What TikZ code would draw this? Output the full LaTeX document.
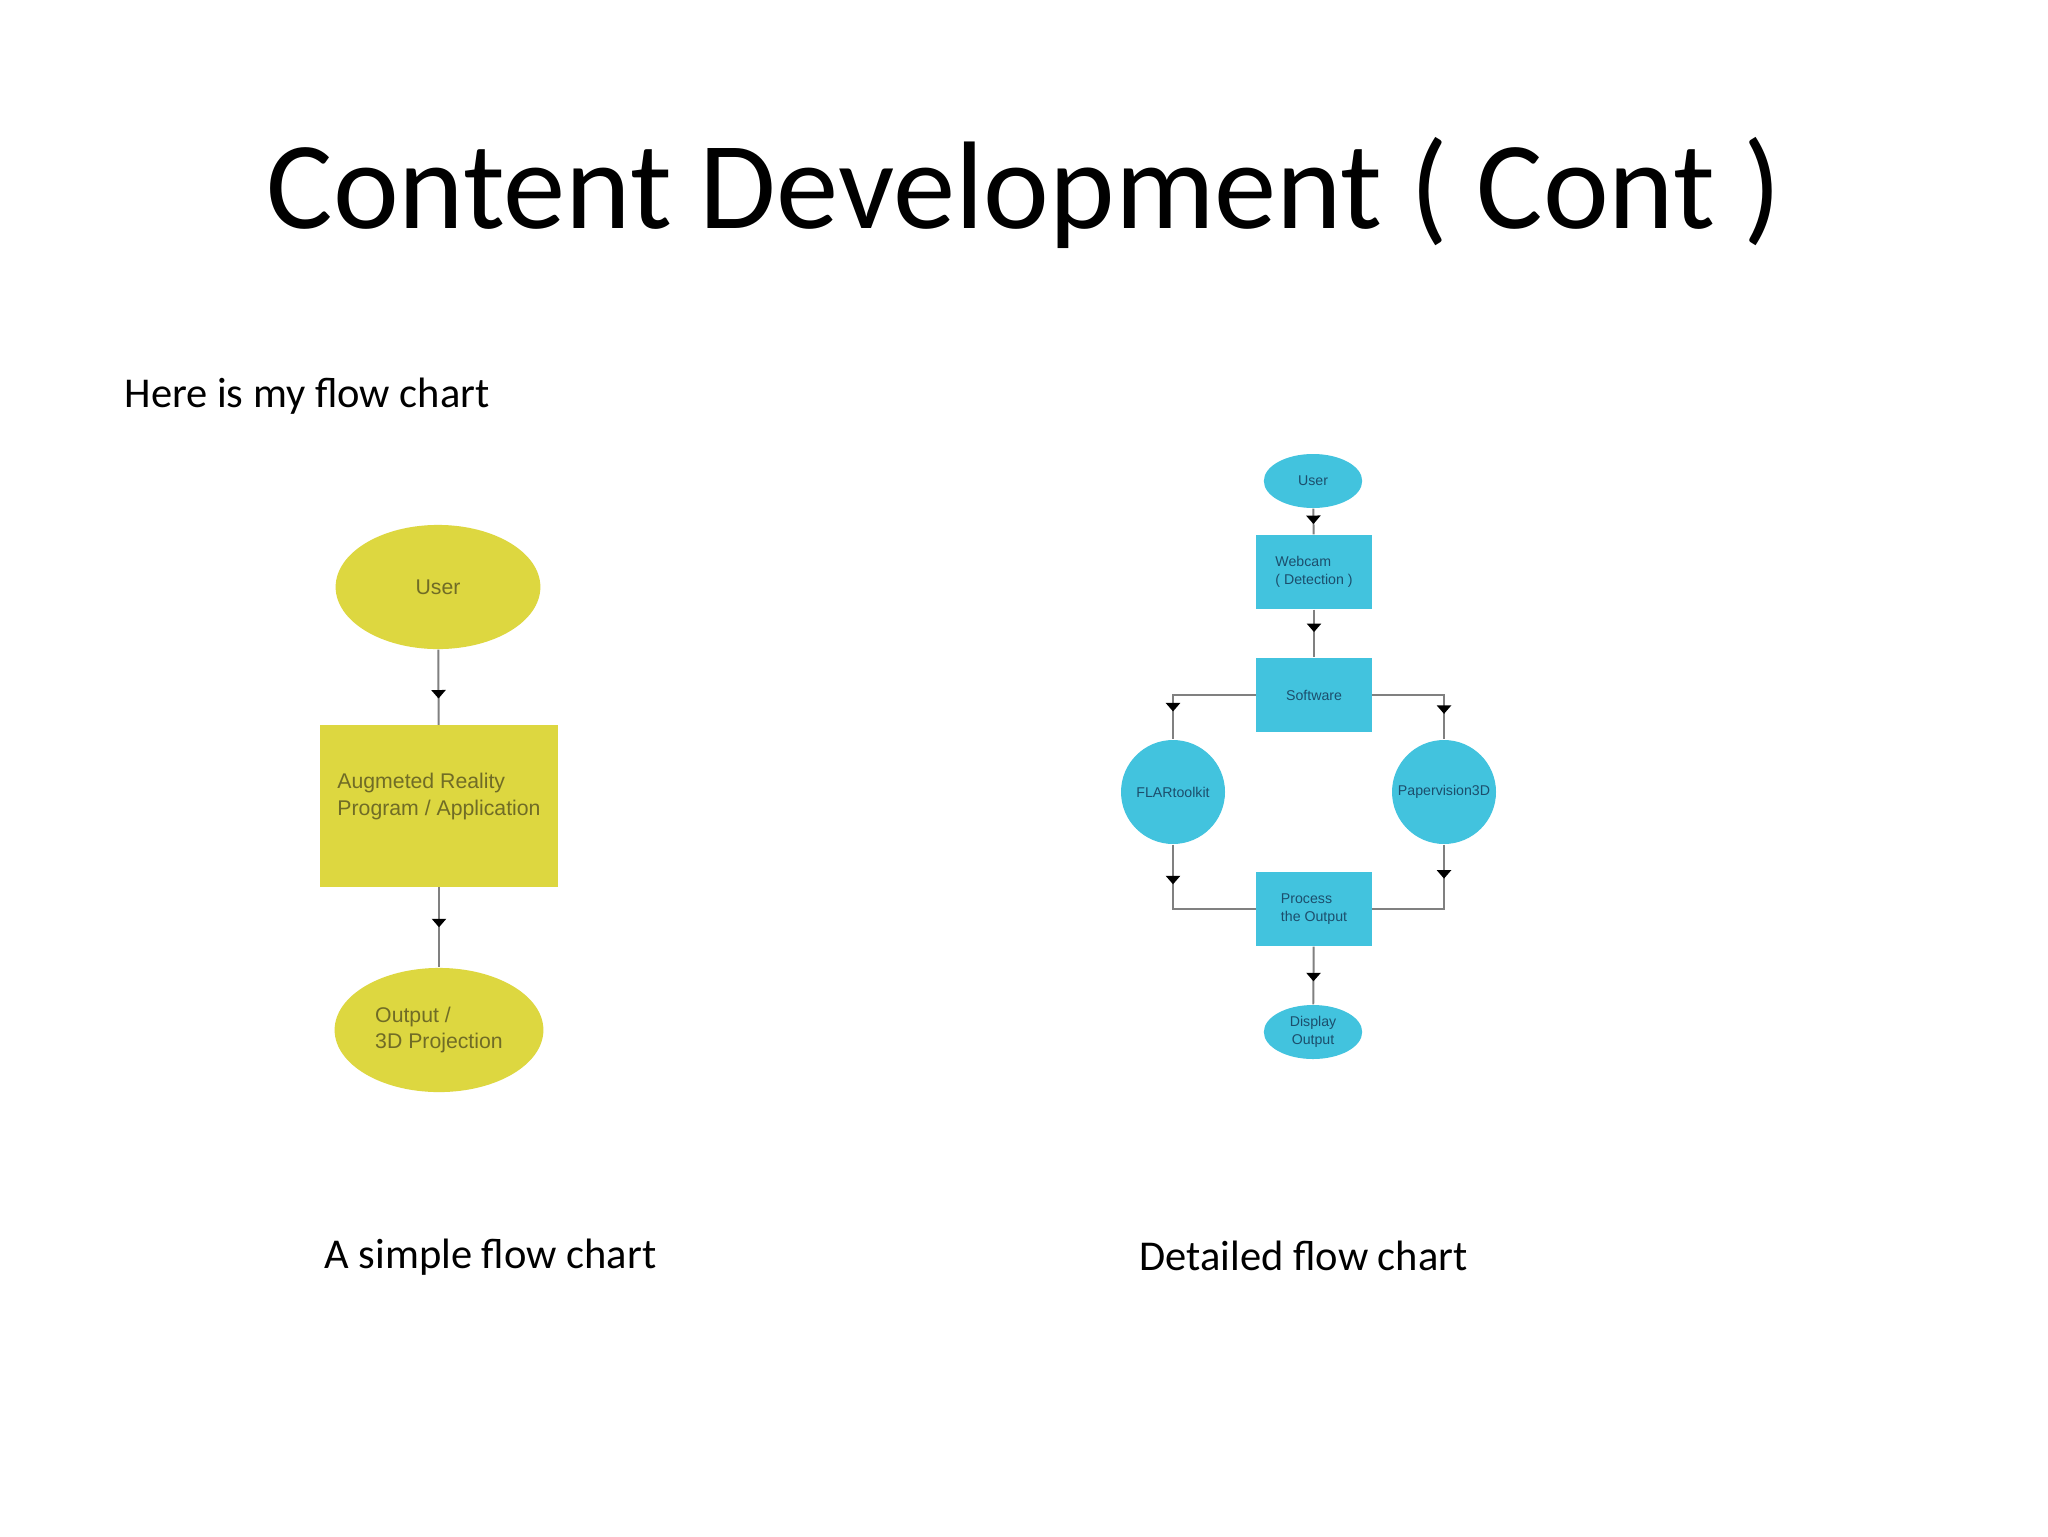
\documentclass[tikz,border=0pt]{standalone}
\usepackage{fontspec}
\setmainfont{Carlito}
\newfontfamily\chartfont{Liberation Sans}
\usepackage{xcolor}
\usetikzlibrary{arrows.meta, shapes.geometric, decorations.markings}

\definecolor{chartyellow}{RGB}{221,215,64}
\definecolor{yellowtext}{RGB}{112,108,38}
\definecolor{chartcyan}{RGB}{66,195,222}
\definecolor{cyantext}{RGB}{28,78,108}
\definecolor{linegray}{RGB}{128,128,128}

\begin{document}
\begin{tikzpicture}[
    x=0.0124023cm, y=-0.0124023cm,
    flowline/.style={draw=linegray, line width=0.7pt},
    midarrow/.style={postaction={decorate}, decoration={markings,
        mark=at position #1 with {\arrow{Triangle[width=5pt,length=3pt,color=black]}}}},
    ybox/.style={rectangle, fill=chartyellow, inner sep=0pt, font=\chartfont\fontsize{7.5}{9.5}\selectfont, text=yellowtext},
    yell/.style={ellipse, fill=chartyellow, inner sep=0pt, font=\chartfont\fontsize{7.5}{9.5}\selectfont, text=yellowtext},
    cbox/.style={rectangle, fill=chartcyan, inner sep=0pt, minimum width=1.43cm, minimum height=0.92cm, font=\chartfont\fontsize{5}{6.5}\selectfont, text=cyantext},
    cell/.style={ellipse, fill=chartcyan, inner sep=0pt, minimum width=1.22cm, minimum height=0.67cm, font=\chartfont\fontsize{5}{6.5}\selectfont, text=cyantext},
    ccirc/.style={circle, fill=chartcyan, inner sep=0pt, minimum size=1.29cm, font=\chartfont\fontsize{5}{6.5}\selectfont, text=cyantext},
    slidetext/.style={font=\fontsize{15}{18}\selectfont, inner sep=0pt}
]
\useasboundingbox (0,0) rectangle (2048,1536);
\fill[white] (0,0) rectangle (2048,1536);

% title and captions
\node[font=\fontsize{44}{52}\selectfont, inner sep=0pt] (title) at (1024,193) {Content Development ( Cont )};
\node[slidetext, anchor=west] (intro) at (124,396) {Here is my flow chart};
\node[slidetext, anchor=west] (capsimple) at (324,1257) {A simple flow chart};
\node[slidetext, anchor=west] (capdetail) at (1139,1256) {Detailed flow chart};

% simple flow chart
\node[yell, minimum width=2.54cm, minimum height=1.54cm] (suser) at (438,587) {User};
\node[ybox, minimum width=2.95cm, minimum height=2.0cm, align=left, text depth=0.3cm] (sapp) at (439,806) {Augmeted Reality\\Program / Application};
\node[yell, minimum width=2.59cm, minimum height=1.54cm, align=left] (sout) at (439,1030) {Output /\\3D Projection};
\draw[flowline, midarrow=0.65] (suser) -- (sapp);
\draw[flowline, midarrow=0.5] (sapp) -- (sout);

% detailed flow chart
\node[cell] (duser) at (1313,481) {User};
\node[cbox, align=left] (dweb) at (1314,572) {Webcam\\( Detection )};
\node[cbox] (dsoft) at (1314,695) {Software};
\node[ccirc] (dflar) at (1173,792) {FLARtoolkit};
\node[ccirc] (dpv) at (1444,792) {Papervision3D};
\node[cbox, align=left] (dproc) at (1314,909) {Process\\the Output};
\node[cell, align=center] (ddisp) at (1313,1032) {Display\\Output};
\draw[flowline, midarrow=0.6] (duser) -- (dweb);
\draw[flowline, midarrow=0.47] (dweb) -- (dsoft);
\draw[flowline, midarrow=0.78] (dsoft.west) -| (dflar.north);
\draw[flowline, midarrow=0.78] (dsoft.east) -| (dpv.north);
\draw[flowline, midarrow=0.27] (dflar.south) |- (dproc.west);
\draw[flowline, midarrow=0.25] (dpv.south) |- (dproc.east);
\draw[flowline, midarrow=0.6] (dproc) -- (ddisp);
\end{tikzpicture}
\end{document}
